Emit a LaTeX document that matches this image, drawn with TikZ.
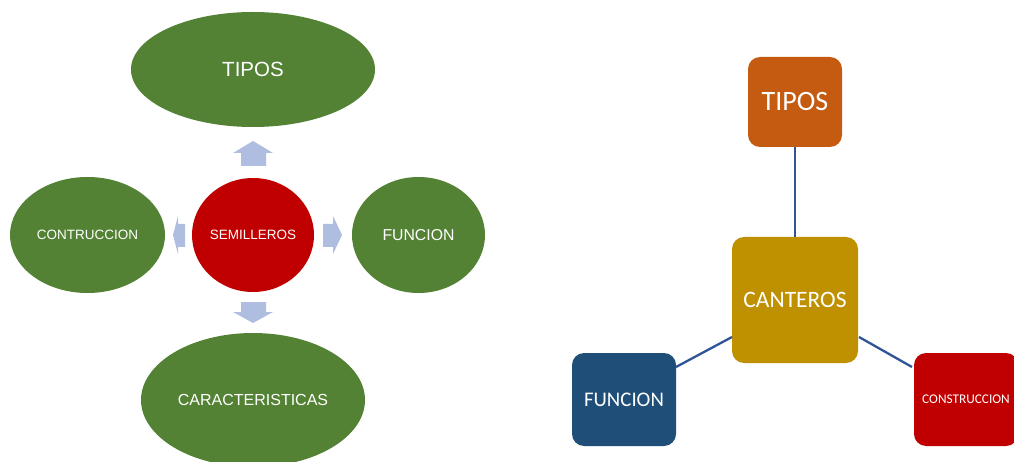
\documentclass[tikz,border=0pt]{standalone}
\usepackage{fontspec}
\setmainfont{Liberation Sans}
\newfontfamily\calib{Carlito}
\usetikzlibrary{shapes.geometric}
\definecolor{grn}{HTML}{548235}
\definecolor{redd}{HTML}{C00000}
\definecolor{arr}{HTML}{AFBDE0}
\definecolor{gold}{HTML}{BF9000}
\definecolor{orng}{HTML}{C55A11}
\definecolor{navy}{HTML}{1F4E79}
\definecolor{lnk}{HTML}{2F5597}
\tikzset{
  oval/.style={ellipse, fill=grn, text=white, inner sep=0pt},
  hub/.style={ellipse, fill=redd, text=white, inner sep=0pt},
  blk/.style={fill=arr, draw=none},
  rbox/.style={rounded corners=12pt, text=white, inner sep=0pt, font=\calib},
  link/.style={draw=lnk, line width=2.3pt}
}
\begin{document}
\begin{tikzpicture}[x=1pt,y=-1pt]
\useasboundingbox (0,0) rectangle (1014,462);
\clip (0,0) rectangle (1014,462);
\fill[white] (0,0) rectangle (1014,462);
% left diagram
\node[oval, minimum width=244pt, minimum height=115pt, font=\fontsize{20.5}{24}\selectfont] (tipos) at (253,69.5) {TIPOS};
\node[oval, minimum width=155pt, minimum height=116pt, font=\fontsize{13.5}{16}\selectfont] (contr) at (87.5,235) {CONTRUCCION};
\node[hub, minimum width=122pt, minimum height=114pt, font=\fontsize{13.5}{16}\selectfont] (semi) at (253,235) {SEMILLEROS};
\node[oval, minimum width=133pt, minimum height=116pt, font=\fontsize{15.8}{19}\selectfont] (func) at (418.5,235) {FUNCION};
\node[oval, minimum width=224pt, minimum height=134pt, font=\fontsize{16}{19}\selectfont] (carac) at (253,400) {CARACTERISTICAS};
% block arrows
\fill[blk] (241,166) -- (241,153) -- (233,153) -- (253,141) -- (273,153) -- (266,153) -- (266,166) -- cycle;
\fill[blk] (241,302) -- (241,312) -- (233,312) -- (253,323) -- (273,312) -- (266,312) -- (266,302) -- cycle;
\fill[blk] (323,224) -- (333,224) -- (333,216) -- (342,235) -- (333,254) -- (333,247) -- (323,247) -- cycle;
\fill[blk] (185,224) -- (178,224) -- (178,216) -- (173,235) -- (178,254) -- (178,247) -- (185,247) -- cycle;
% right diagram
\node[rbox, fill=orng, minimum width=94pt, minimum height=90pt, font=\calib\fontsize{28}{32}\selectfont] (tipos2) at (795,102) {TIPOS};
\node[rbox, fill=gold, minimum width=126pt, minimum height=126pt, font=\calib\fontsize{23.5}{28}\selectfont] (cant) at (795,300) {CANTEROS};
\node[rbox, fill=navy, minimum width=104pt, minimum height=93pt, font=\calib\fontsize{20.8}{24}\selectfont] (func2) at (624,399.5) {FUNCION};
\node[rbox, fill=redd, minimum width=104pt, minimum height=93pt, font=\calib\fontsize{13.3}{16}\selectfont] (cons) at (966,399.5) {CONSTRUCCION};
\coordinate (cl) at (732,337);
\coordinate (cr) at (859,337);
\coordinate (fr) at (676,367);
\coordinate (crl) at (912,367);
\draw[link] (tipos2.south) -- (cant.north);
\draw[link] (cl) -- (fr);
\draw[link] (cr) -- (crl);
\end{tikzpicture}
\end{document}
